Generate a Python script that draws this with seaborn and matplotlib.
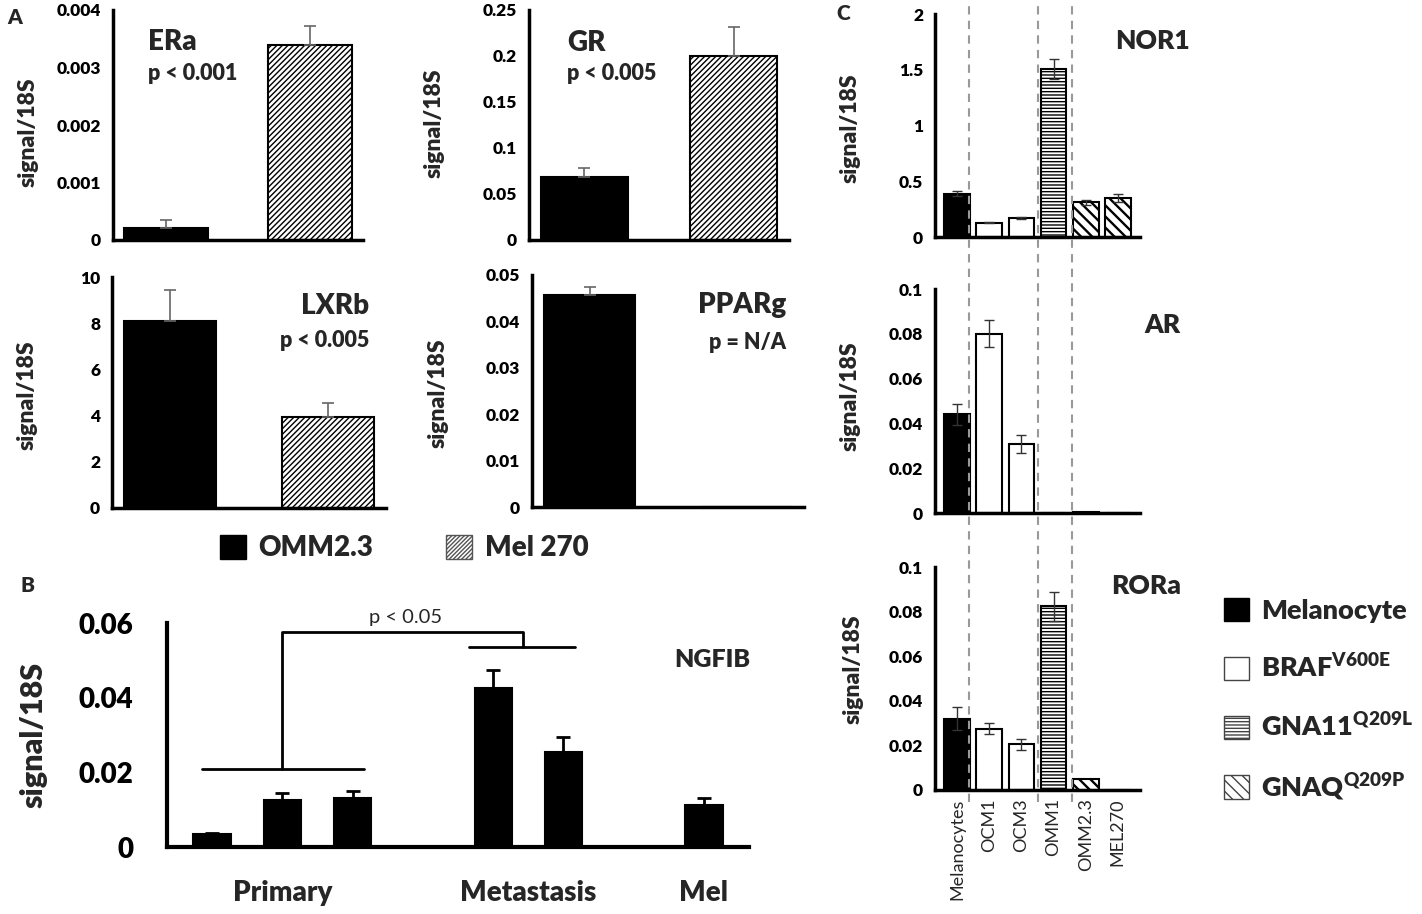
"""
Nuclear receptor expression in uveal melanoma cell lines (panels A, B, C).
"""

import matplotlib
matplotlib.use("Agg")
import matplotlib.pyplot as plt
from matplotlib.patches import Patch
import numpy as np
import pandas as pd
import seaborn as sns

sns.set_style("white")
plt.rcParams['font.family'] = ['Lato', 'DejaVu Sans']
plt.rcParams['font.weight'] = 'heavy'
plt.rcParams['mathtext.fontset'] = 'custom'
plt.rcParams['mathtext.bf'] = 'Lato:heavy'
plt.rcParams['mathtext.rm'] = 'Lato'
plt.rcParams['hatch.linewidth'] = 1.0
plt.rcParams['hatch.color'] = 'black'

W, H = 1422, 914
BOLD = 'heavy'

# ---------------- data ----------------
# Panel A: OMM2.3 vs Mel 270
lines_a = ["OMM2.3", "Mel 270"]
era_vals = [0.00021, 0.0034]
era_err = [0.00013, 0.00033]
gr_vals = [0.068, 0.200]
gr_err = [0.010, 0.031]
lxrb_vals = [8.1, 3.95]
lxrb_err = [1.35, 0.6]
pparg_vals = [0.0457, 0.0]
pparg_err = [0.0017, 0.0]

# Panel B: NGFIB in tumour samples
ngfib_samples = ["Primary 1", "Primary 2", "Primary 3",
                 "Metastasis 1", "Metastasis 2", "Mel"]
ngfib_vals = [0.0035, 0.0125, 0.013, 0.0425, 0.0255, 0.0112]
ngfib_err = [0.0003, 0.002, 0.002, 0.005, 0.004, 0.0018]
ngfib_order = ["Primary 1", "Primary 2", "Primary 3", "gap 1",
               "Metastasis 1", "Metastasis 2", "gap 2", "Mel"]
ngfib_groups = ["Primary", "Metastasis", "Mel"]
ngfib_group_pos = [1, 4.5, 7]

# Panel C: cell lines by mutation
cells = ["Melanocytes", "OCM1", "OCM3", "OMM1", "OMM2.3", "MEL270"]
genotype = ["Melanocyte", "BRAF", "BRAF", "GNA11", "GNAQ", "GNAQ"]
nor1_vals = [0.39, 0.13, 0.17, 1.51, 0.31, 0.35]
nor1_err = [0.025, 0.008, 0.010, 0.09, 0.025, 0.04]
ar_vals = [0.044, 0.080, 0.031, 0.0, 0.0005, 0.0]
ar_err = [0.0045, 0.006, 0.004, 0.0, 0.0, 0.0]
rora_vals = [0.032, 0.0275, 0.0205, 0.0825, 0.0048, 0.0]
rora_err = [0.005, 0.0025, 0.0025, 0.0065, 0.0, 0.0]

# ---------------- styles ----------------
line_style = {"OMM2.3": ("black", ""), "Mel 270": ("white", "//////")}
geno_style = {"Melanocyte": ("black", ""), "BRAF": ("white", ""),
              "GNA11": ("white", "-----"), "GNAQ": ("white", "\\\\\\")}
geno_hatch_lw = {"Melanocyte": 1.0, "BRAF": 1.0, "GNA11": 1.0, "GNAQ": 1.7}
geno_labels = {"Melanocyte": "Melanocyte",
               "BRAF": r"BRAF$^{\mathbf{V600E}}$",
               "GNA11": r"GNA11$^{\mathbf{Q209L}}$",
               "GNAQ": r"GNAQ$^{\mathbf{Q209P}}$"}


def add_ax(fig, l, t, r, b):
    """Axes from pixel box (left, top, right, bottom)."""
    return fig.add_axes([l / W, 1 - b / H, (r - l) / W, (b - t) / H])


def set_hatch_lw(patch, lw):
    if hasattr(patch, "set_hatch_linewidth"):
        patch.set_hatch_linewidth(lw)


def style_axis(ax, yticks, tick_size, spine_w=2.5, tick_len=9, pad=4):
    sns.despine(ax=ax)
    for side in ['left', 'bottom']:
        ax.spines[side].set_linewidth(spine_w)
        ax.spines[side].set_color('black')
        ax.spines[side].set_zorder(4)
    ax.set_ylim(yticks[0], yticks[-1])
    ax.set_yticks(yticks, [f"{v:g}" for v in yticks])
    ax.tick_params(axis='y', direction='inout', length=tick_len,
                   width=spine_w * 0.9, labelsize=tick_size, pad=pad,
                   colors='black')
    ax.tick_params(axis='x', length=0)
    ax.set_xlabel("")
    ax.set_facecolor('none')


def bars(ax, names, vals, errs, order, faces, hatches, width, ecolor,
         capsize, elw, upper_only, hatch_lws=None):
    df = pd.DataFrame({"name": names, "value": vals})
    sns.barplot(data=df, x="name", y="value", order=order, color="white",
                width=width, errorbar=None, edgecolor="black", linewidth=1.5,
                ax=ax, zorder=2)
    for k, (patch, fc, hat) in enumerate(zip(ax.patches, faces, hatches)):
        patch.set_facecolor(fc)
        patch.set_hatch(hat)
        if hatch_lws is not None:
            set_hatch_lw(patch, hatch_lws[k])
    keep = [i for i, e in enumerate(errs) if e > 0]
    xpos = [order.index(names[i]) for i in keep]
    y = [vals[i] for i in keep]
    e = np.array([errs[i] for i in keep])
    yerr = [np.zeros_like(e), e] if upper_only else e
    ax.errorbar(xpos, y, yerr=yerr, fmt='none', ecolor=ecolor,
                capsize=capsize, elinewidth=elw, capthick=elw, zorder=3)


def ylabel(ax, text, x, y, size):
    ax.set_ylabel(text, fontsize=size, fontweight=BOLD, va='center')
    ax.yaxis.set_label_coords(x, y)


fig = plt.figure(figsize=(W / 100, H / 100), dpi=100)

# ---------------- panel A ----------------
a_panels = [
    ("ERa", "p < 0.001", era_vals, era_err, (113, 10, 363, 240),
     [0, 0.001, 0.002, 0.003, 0.004], (0.14, 0.86, 0.726), 'left', (-0.34, 0.47)),
    ("GR", "p < 0.005", gr_vals, gr_err, (529, 10, 789, 240),
     [0, 0.05, 0.1, 0.15, 0.2, 0.25], (0.146, 0.857, 0.726), 'left', (-0.365, 0.51)),
    ("LXRb", "p < 0.005", lxrb_vals, lxrb_err, (112, 277, 386, 508),
     [0, 2, 4, 6, 8, 10], (0.94, 0.874, 0.723), 'right', (-0.31, 0.49)),
    ("PPARg", "p = N/A", pparg_vals, pparg_err, (532, 275, 804, 507),
     [0, 0.01, 0.02, 0.03, 0.04, 0.05], (0.934, 0.87, 0.71), 'right', (-0.345, 0.49)),
]
for name, ptxt, vals, errs, box, yt, (tx, ty1, ty2), ha, (lx, ly) in a_panels:
    ax = add_ax(fig, *box)
    faces = [line_style[c][0] for c in lines_a]
    hatches = [line_style[c][1] for c in lines_a]
    bars(ax, lines_a, vals, errs, lines_a, faces, hatches, 0.58,
         '#666666', 4, 1.2, True)
    style_axis(ax, yt, 12.5)
    ax.set_xticks([])
    ax.text(tx, ty1, name, transform=ax.transAxes, ha=ha, va='center',
            fontsize=20, fontweight=BOLD)
    ax.text(tx, ty2, ptxt, transform=ax.transAxes, ha=ha, va='center',
            fontsize=15.5, fontweight=BOLD)
    ylabel(ax, "signal/18S", lx, ly, 16.5)

leg_a = [Patch(facecolor='black', edgecolor='black', label="OMM2.3"),
         Patch(facecolor='white', edgecolor='#555555', hatch='////////',
               label="Mel 270")]
fig.legend(handles=leg_a, loc='center', bbox_to_anchor=(404 / W, 1 - 548 / H),
           ncol=2, frameon=False, fontsize=20, handlelength=0.95,
           handleheight=0.95, handletextpad=0.45, columnspacing=2.6,
           borderpad=0)

# ---------------- panel B ----------------
axb = add_ax(fig, 167, 623, 749, 847)
bars(axb, ngfib_samples, ngfib_vals, ngfib_err, ngfib_order,
     ['black'] * 6, [''] * 6, 0.53, 'black', 5, 2.0, True)
style_axis(axb, [0, 0.02, 0.04, 0.06], 20, spine_w=3.0, tick_len=20, pad=14)
axb.set_xticks(ngfib_group_pos, ngfib_groups, fontsize=20, fontweight=BOLD)
axb.tick_params(axis='x', pad=24)
ylabel(axb, "signal/18S", -0.23, 0.5, 22)
axb.text(0.871, 0.835, "NGFIB", transform=axb.transAxes, ha='left',
         va='center', fontsize=18, fontweight=BOLD)
# significance bracket: primary vs metastasis
br_kw = dict(color='black', lw=2, clip_on=False)
axb.plot([-0.14, 2.16], [0.021, 0.021], **br_kw)
axb.plot([1, 1, 4.42, 4.42], [0.021, 0.0576, 0.0576, 0.0536], **br_kw)
axb.plot([3.65, 5.17], [0.0536, 0.0536], **br_kw)
axb.text(2.75, 0.0616, "p < 0.05", ha='center', va='center', fontsize=14.5,
         fontweight='normal')

# ---------------- panel C ----------------
c_faces = [geno_style[g][0] for g in genotype]
c_hatches = [geno_style[g][1] for g in genotype]
c_hatch_lws = [geno_hatch_lw[g] for g in genotype]
c_panels = [
    ("NOR1", nor1_vals, nor1_err, (935, 14, 1140, 237), [0, 0.5, 1, 1.5, 2],
     (0.88, 0.88), (-0.415, 0.49)),
    ("AR", ar_vals, ar_err, (935, 289, 1140, 513),
     [0, 0.02, 0.04, 0.06, 0.08, 0.1], (1.02, 0.84), (-0.415, 0.52)),
    ("RORa", rora_vals, rora_err, (935, 567, 1140, 790),
     [0, 0.02, 0.04, 0.06, 0.08, 0.1], (0.86, 0.915), (-0.40, 0.54)),
]
for i, (name, vals, errs, box, yt, (tx, ty), (lx, ly)) in enumerate(c_panels):
    ax = add_ax(fig, *box)
    bars(ax, cells, vals, errs, cells, c_faces, c_hatches, 0.8,
         '#333333', 3.5, 1.0, False, hatch_lws=c_hatch_lws)
    style_axis(ax, yt, 12.5)
    if i < 2:
        ax.set_xticks([])
    else:
        ax.set_xticks(range(len(cells)), cells, rotation=90, fontsize=13,
                      fontweight='normal')
        ax.tick_params(axis='x', pad=6)
    ax.text(tx, ty, name, transform=ax.transAxes, ha='left', va='center',
            fontsize=19, fontweight=BOLD, clip_on=False)
    ylabel(ax, "signal/18S", lx, ly, 16.5)

# dashed dividers between genotype groups, running through all C panels
axd = add_ax(fig, 935, 0, 1140, 802)
axd.set_xlim(-0.5, len(cells) - 0.5)
axd.set_ylim(0, 1)
axd.axis('off')
for xd in [0.5, 2.5, 3.5]:
    axd.axvline(xd, color='#999999', lw=1.5, ls=(0, (4, 3)))

leg_c = []
for g in ["Melanocyte", "BRAF", "GNA11", "GNAQ"]:
    p = Patch(facecolor=geno_style[g][0], hatch=geno_style[g][1],
              edgecolor='black' if g == 'Melanocyte' else '#444444',
              label=geno_labels[g])
    set_hatch_lw(p, geno_hatch_lw[g])
    leg_c.append(p)
fig.legend(handles=leg_c, loc='upper left',
           bbox_to_anchor=(1210 / W, 1 - 584 / H), frameon=False,
           fontsize=19.5, handlelength=0.95, handleheight=0.95,
           handletextpad=0.45, labelspacing=1.1, borderpad=0)

# panel letters
fig.text(15 / W, 1 - 18 / H, "A", fontsize=15, fontweight=BOLD,
         ha='center', va='center')
fig.text(28 / W, 1 - 585 / H, "B", fontsize=15, fontweight=BOLD,
         ha='center', va='center')
fig.text(843 / W, 1 - 14 / H, "C", fontsize=15, fontweight=BOLD,
         ha='center', va='center')

fig.savefig("out.png", dpi=100)
